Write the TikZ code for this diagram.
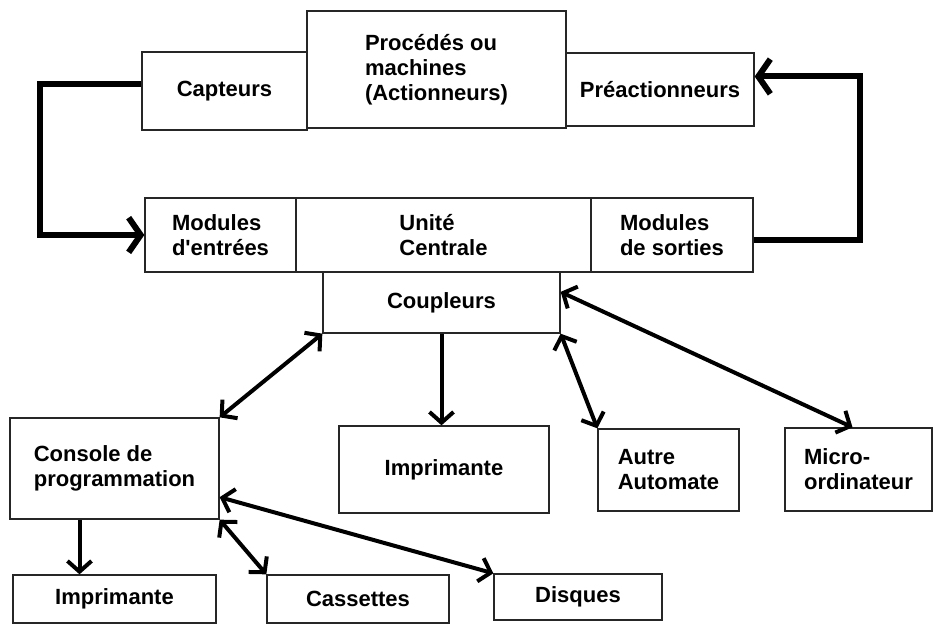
\documentclass[tikz,border=0pt]{standalone}
\usepackage{fontspec}
\setmainfont{Liberation Sans}
\usetikzlibrary{arrows.meta,calc}

\begin{document}
\begin{tikzpicture}[
    x=0.75pt, y=-0.75pt,
    box/.style={rectangle, draw=black!85, line width=1pt, align=left,
        inner sep=0pt, font=\fontsize{16.5}{18.75}\selectfont\bfseries},
    mainloop/.style={line width=4.5pt, -{Straight Barb[length=9pt,width=26pt]}},
    duplex/.style={line width=3pt,
        {Straight Barb[length=8pt,width=18pt]}-{Straight Barb[length=8pt,width=18pt]}},
    simplex/.style={line width=3pt, -{Straight Barb[length=8pt,width=18pt]}}
]
    \useasboundingbox (0,0) rectangle (933,624);

    \node[box, minimum width=194.25pt, minimum height=87.75pt] (proc) at (436.5,69.5) {Procédés ou\\machines\\(Actionneurs)};
    \node[box, minimum width=123.75pt, minimum height=58.5pt] (capt) at (224.5,91) {Capteurs};
    \node[box, minimum width=141pt, minimum height=54.75pt] (prea) at (660,89.5) {Préactionneurs};
    \node[box, minimum width=221.25pt, minimum height=55.5pt] (uc) at (443.5,235) {Unité\\Centrale};
    \node[box, minimum width=113.25pt, minimum height=55.5pt] (modin) at (220.5,235) {Modules\\d\textquotesingle entrées};
    \node[box, minimum width=121.5pt, minimum height=55.5pt] (modout) at (672,235) {Modules\\de sorties};
    \node[box, minimum width=177.75pt, minimum height=45.75pt] (coup) at (441.5,302.5) {Coupleurs};
    \node[box, minimum width=156.75pt, minimum height=75.75pt] (cons) at (114.5,468.5) {Console de\\programmation};
    \node[box, minimum width=157.5pt, minimum height=65.25pt] (imp) at (444,469.5) {Imprimante};
    \node[box, minimum width=105.75pt, minimum height=61.5pt] (autre) at (668.5,470) {Autre\\Automate};
    \node[box, minimum width=110.25pt, minimum height=62.25pt] (micro) at (858.5,469.5) {Micro-\\ordinateur};
    \node[box, minimum width=152.25pt, minimum height=36pt] (imp1) at (114.5,599) {Imprimante};
    \node[box, minimum width=136.5pt, minimum height=36pt] (cass) at (358,599) {Cassettes};
    \node[box, minimum width=126pt, minimum height=34.5pt] (disq) at (578,597) {Disques};

    \draw[mainloop] ($(capt.west)+(0,-7)$) -- ++(-101,0) |- (modin.west);
    \draw[mainloop] ($(modout.east)+(0,5)$) -- ++(106,0) |- ($(prea.east)+(0,-13)$);
    \draw[duplex] (coup.south west) -- (cons.north east);
    \draw[simplex] (coup.south) -- (coup.south |- imp.north);
    \draw[duplex] (coup.south east) -- (autre.north west);
    \draw[duplex] ($(coup.north east)!0.33!(coup.south east)$) -- ($(micro.north)+(-6,0)$);
    \draw[simplex] ($(cons.south)+(-35,0)$) -- ($(imp1.north)+(-35,0)$);
    \draw[duplex] (cons.south east) -- (cass.north west);
    \draw[duplex] ($(cons.north east)!0.78!(cons.south east)$) -- (disq.north west);
\end{tikzpicture}
\end{document}
